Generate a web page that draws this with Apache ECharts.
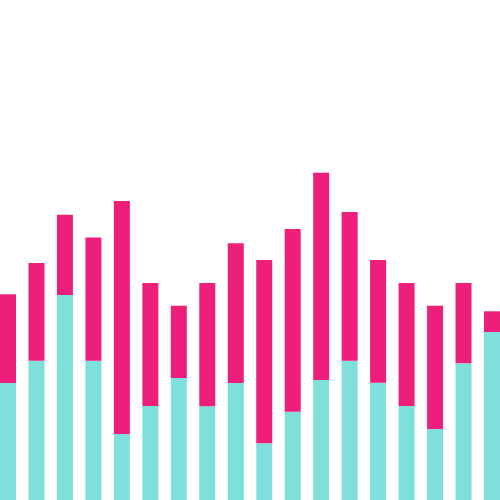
<!DOCTYPE html>
<html>
<head>
<meta charset="utf-8">
<script src="https://cdn.jsdelivr.net/npm/echarts@6/dist/echarts.min.js"></script>
<style>html,body{margin:0;padding:0;background:#fff}#c{width:500px;height:500px}</style>
</head>
<body>
<div id="c"></div>
<script>
const categories = ['1','2','3','4','5','6','7','8','9','10','11','12','13','14','15','16','17','18'];
const seriesA = [117, 139.3, 205, 139.3, 66, 94, 122, 93.7, 117, 56.7, 88.3, 120, 139.3, 117.3, 94, 71, 136.7, 168];
const seriesB = [88.7, 97.7, 80.3, 123.3, 233, 123, 72.3, 123.3, 139.7, 183.3, 182.7, 207.3, 148.7, 122.7, 123, 123.3, 80.3, 20.7];

const chart = echarts.init(document.getElementById('c'), null, {renderer: 'canvas'});
chart.setOption({
  animation: false,
  grid: {left: 8, right: 8, top: 0, bottom: 0},
  xAxis: {type: 'category', data: categories, boundaryGap: false, show: false},
  yAxis: {type: 'value', min: 0, max: 500, show: false},
  series: [
    {type: 'bar', stack: 's', data: seriesA, barWidth: 16, clip: false, itemStyle: {color: '#7FE0DB'}},
    {type: 'bar', stack: 's', data: seriesB, barWidth: 16, clip: false, itemStyle: {color: '#EE1F7A'}}
  ]
});
</script>
</body>
</html>
